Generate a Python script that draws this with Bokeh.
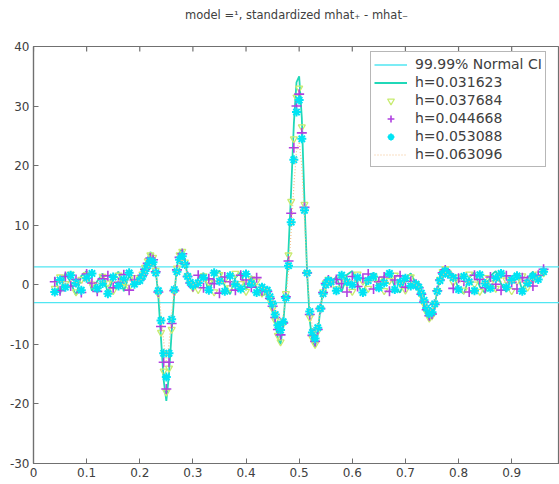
from bokeh.plotting import figure
from bokeh.models import FixedTicker, Legend, LegendItem, Range1d
from bokeh.embed import file_html
from bokeh.resources import INLINE

# ---------------- data ----------------
x = [0.04, 0.05, 0.06, 0.07, 0.08, 0.09, 0.10, 0.11, 0.12, 0.13, 0.14, 0.15, 0.16, 0.17, 0.18, 0.19,
     0.200, 0.205, 0.210, 0.215, 0.220, 0.225, 0.230, 0.235, 0.240, 0.245, 0.250, 0.255, 0.260, 0.265,
     0.270, 0.275, 0.280, 0.285, 0.290, 0.295, 0.300,
     0.31, 0.32, 0.33, 0.34, 0.35, 0.36, 0.37, 0.38, 0.39, 0.40, 0.41, 0.42, 0.43,
     0.440, 0.445, 0.450, 0.455, 0.460, 0.465, 0.470, 0.475, 0.480, 0.485, 0.490, 0.495, 0.500,
     0.505, 0.510, 0.515, 0.520, 0.525, 0.530, 0.535, 0.540, 0.545, 0.550, 0.555, 0.560,
     0.57, 0.58, 0.59, 0.60, 0.61, 0.62, 0.63, 0.64, 0.65, 0.66, 0.67, 0.68, 0.69, 0.70, 0.71,
     0.720, 0.725, 0.730, 0.735, 0.740, 0.745, 0.750, 0.755, 0.760, 0.765, 0.770, 0.775, 0.780,
     0.79, 0.80, 0.81, 0.82, 0.83, 0.84, 0.85, 0.86, 0.87, 0.88, 0.89, 0.90, 0.91, 0.92, 0.93, 0.94, 0.95, 0.96]

h_031623 = [1.2, -1.5, 2.0, 0.4, -1.8, 1.5, 2.3, -1.0, 0.6, 1.9, -1.4, 1.1, 2.2, -1.1, 1.6, -0.3,
            1.0, 2.0, 3.2, 4.5, 5.5, 5.0, 2.5, -2.0, -9.0, -16.0, -19.5, -15.0, -8.0, -1.5, 3.0, 5.5, 6.0, 4.0, 1.5, 0.0, -0.8,
            1.1, 2.0, -1.3, 1.4, 2.4, -0.2, -1.6, 1.2, 2.1, -0.9, 1.5, -0.6, -1.8,
            -1.5, -3.0, -4.5, -6.5, -9.0, -10.0, -6.5, -1.0, 6.0, 16.0, 27.0, 34.0, 35.0, 28.0, 14.0, 2.0, -6.0, -9.5, -10.5, -8.0, -4.0, -1.0, 0.5, 1.0, 0.2,
            1.4, -1.2, 1.7, 2.3, 0.1, -1.5, 1.0, 2.0, -0.8, 1.5, 2.2, -0.4, -1.3, 1.1, 1.9,
            0.2, -0.8, -2.0, -3.5, -5.0, -6.0, -5.5, -3.5, -1.0, 1.0, 2.5, 3.0, 2.2,
            1.8, -0.7, -1.5, 1.2, 2.1, -0.3, -1.4, 1.5, 2.3, 0.2, -1.2, 1.4, 1.9, -0.9, 1.1, 2.2, 0.5, 2.8]

h_037684 = [-0.6, 1.3, 0.2, 1.8, -1.2, 0.9, 1.7, 0.1, -0.8, 1.4, 0.3, -1.0, 1.6, 0.5, -0.4, 1.2,
            0.9, 1.8, 2.9, 4.0, 5.0, 4.6, 2.4, -1.5, -8.0, -14.5, -18.0, -14.0, -7.5, -1.2, 2.8, 5.0, 5.6, 3.8, 1.5, 0.2, -0.5,
            -0.8, 1.5, 0.4, -1.2, 1.7, 0.9, -0.5, 1.9, 0.2, -1.1, 1.0, 0.6, -1.4,
            -1.3, -2.6, -4.0, -6.0, -8.5, -9.6, -6.5, -1.5, 5.0, 14.0, 24.5, 31.5, 33.0, 26.5, 13.5, 2.0, -5.5, -9.0, -10.0, -7.8, -4.0, -1.2, 0.3, 0.9, 0.3,
            -0.7, 1.2, 0.3, -1.1, 1.8, 0.6, -0.6, 1.5, 0.9, -1.0, 0.7, 1.6, 0.2, -0.9, 1.3,
            0.2, -0.6, -1.8, -3.2, -4.6, -5.6, -5.2, -3.4, -1.0, 0.9, 2.2, 2.7, 2.0,
            0.4, 1.3, -0.9, 1.8, 0.1, -1.1, 1.2, 0.3, -0.6, 1.7, 0.8, -1.0, 0.6, 1.5, -0.4, 0.9, 1.8, 2.0]

h_044668 = [0.5, -1.0, 1.4, -0.2, 0.9, -1.3, 1.8, 0.3, -1.1, 1.0, 1.5, -0.5, 0.4, 1.7, -0.9, 0.8,
            0.8, 1.6, 2.6, 3.6, 4.5, 4.2, 2.2, -1.2, -7.0, -13.0, -17.5, -13.0, -6.5, -1.0, 2.5, 4.6, 5.2, 3.6, 1.4, 0.3, -0.3,
            1.6, -0.5, 1.0, 0.2, -1.4, 1.3, 0.5, -0.9, 1.6, 0.8, -0.4, 1.2, -1.0,
            -1.1, -2.3, -3.6, -5.5, -7.5, -8.4, -6.4, -2.0, 4.0, 12.0, 23.0, 30.0, 32.0, 25.5, 13.0, 2.0, -5.0, -8.5, -9.5, -7.5, -4.0, -1.3, 0.2, 0.8, 0.4,
            0.9, 0.2, -1.2, 1.4, -0.3, 1.1, 1.8, -0.7, 0.5, 1.3, -1.1, 0.8, 1.5, -0.4, 0.6,
            0.1, -0.5, -1.6, -2.9, -4.2, -5.2, -4.9, -3.3, -1.0, 0.8, 2.0, 2.5, 1.9,
            -0.6, 1.1, 0.6, -1.2, 1.6, 0.9, -0.5, 1.3, 0.1, -0.9, 1.5, 0.4, -0.7, 1.2, 0.7, -0.2, 1.6, 2.6]

h_053088 = [-1.2, 0.8, -0.4, 1.6, 0.3, -0.9, 1.1, 1.9, -0.6, 0.2, -1.5, 1.3, -0.2, 0.9, 2.0, 0.1,
            0.7, 1.4, 2.3, 3.2, 4.0, 3.8, 2.0, -1.0, -6.0, -11.5, -15.5, -11.5, -5.8, -0.8, 2.2, 4.2, 4.8, 3.4, 1.4, 0.4, -0.1,
            0.3, 1.2, -0.9, 2.0, 0.6, -1.1, 1.5, 0.1, -0.7, 1.8, 0.2, -1.3, -0.4,
            -0.9, -2.0, -3.2, -5.0, -6.8, -7.6, -6.2, -2.2, 3.2, 10.5, 21.0, 29.0, 31.0, 24.5, 12.5, 2.0, -4.5, -8.0, -9.0, -7.2, -4.0, -1.5, 0.0, 0.7, 0.5,
            -1.0, 1.6, 0.5, 0.0, 1.2, -1.3, 0.7, 1.4, -0.5, 0.3, 1.9, -0.8, 0.4, 1.1, -0.2,
            0.1, -0.4, -1.4, -2.6, -3.9, -4.8, -4.6, -3.2, -1.1, 0.7, 1.8, 2.3, 1.8,
            1.2, -0.8, 1.4, 0.5, -1.0, 1.7, 0.2, -0.6, 1.1, 1.9, -0.4, 0.8, 1.5, -1.1, 0.3, 1.4, 0.9, 2.2]

h_063096 = [0.3, 0.6, 0.1, 0.7, 0.4, 0.2, 0.8, 0.5, 0.1, 0.6, 0.3, 0.4, 0.7, 0.5, 0.6, 0.8,
            0.6, 1.2, 2.0, 2.8, 3.4, 3.3, 1.8, -0.6, -5.0, -9.5, -13.0, -10.0, -5.0, -0.5, 2.0, 3.8, 4.3, 3.2, 1.5, 0.5, 0.0,
            0.5, 0.6, 0.3, 0.7, 0.5, 0.3, 0.6, 0.4, 0.5, 0.6, 0.3, 0.0, -0.5,
            -0.8, -1.6, -2.6, -4.0, -5.3, -6.0, -5.2, -2.2, 2.5, 9.0, 16.5, 22.5, 24.0, 20.0, 11.0, 2.0, -4.0, -7.2, -8.2, -6.8, -4.0, -1.6, -0.2, 0.6, 0.5,
            0.5, 0.4, 0.6, 0.7, 0.5, 0.3, 0.5, 0.6, 0.4, 0.5, 0.6, 0.4, 0.2, 0.4, 0.5,
            0.0, -0.3, -1.2, -2.3, -3.5, -4.3, -4.2, -3.0, -1.1, 0.5, 1.6, 2.1, 1.7,
            0.9, 0.6, 0.3, 0.5, 0.7, 0.5, 0.3, 0.5, 0.7, 0.5, 0.3, 0.5, 0.6, 0.4, 0.5, 0.9, 1.3, 2.0]

ci_x = [0.0, 1.0]
ci_upper = [3.0, 3.0]
ci_lower = [-3.0, -3.0]

xticks = [0.0, 0.1, 0.2, 0.3, 0.4, 0.5, 0.6, 0.7, 0.8, 0.9]
xtick_labels = ["0", "0.1", "0.2", "0.3", "0.4", "0.5", "0.6", "0.7", "0.8", "0.9"]
yticks = [-30, -20, -10, 0, 10, 20, 30, 40]
ytick_labels = ["-30", "-20", "-10", "0", "10", "20", "30", "40"]

title_text = "model =\u00b9, standardized mhat\u208a - mhat\u208b"
legend_labels = ["99.99% Normal CI", "h=0.031623", "h=0.037684", "h=0.044668", "h=0.053088", "h=0.063096"]

# ---------------- figure ----------------
FONT = "DejaVu Sans"
AXC = "#707070"
TXC = "#404040"
X0, X1 = 0.0, 0.99
Y0, Y1 = -30, 40
FRAME_W = 526
FRAME_H = 417

p = figure(frame_width=FRAME_W, frame_height=FRAME_H, output_backend="svg", toolbar_location=None,
           x_range=Range1d(X0, X1), y_range=Range1d(Y0, Y1),
           min_border_left=33, min_border_right=0, min_border_top=46, min_border_bottom=21,
           background_fill_color="white", border_fill_color="white")
p.outline_line_color = AXC
p.outline_line_width = 1.2
p.xgrid.visible = False
p.ygrid.visible = False

# title: centred over the axes box, lifted well above the box via bottom padding
p.title.text = title_text
p.title.align = "center"
p.title.offset = 5
p.title.text_font = FONT
p.title.text_font_size = "11.5px"
p.title.text_font_style = "normal"
p.title.text_color = TXC
p.title.standoff = 0
p.title.padding = {"left": 0, "right": 0, "top": 0, "bottom": 25}

def style_axis(ax):
    ax.axis_line_color = AXC
    ax.axis_line_width = 1.2
    ax.major_tick_line_color = AXC
    ax.major_tick_in = 5
    ax.major_tick_out = 0
    ax.minor_tick_line_color = None
    ax.major_label_text_font = FONT
    ax.major_label_text_font_size = "12px"
    ax.major_label_text_color = TXC
    ax.major_label_standoff = 4

p.xaxis.ticker = FixedTicker(ticks=xticks)
p.xaxis.major_label_overrides = {t: l for t, l in zip(xticks, xtick_labels)}
style_axis(p.xaxis[0])
p.yaxis.ticker = FixedTicker(ticks=yticks)
p.yaxis.major_label_overrides = {t: l for t, l in zip(yticks, ytick_labels)}
style_axis(p.yaxis[0])

# inward ticks on the top edge of the box (5 px long)
px_y = (Y1 - Y0) / FRAME_H
tick_len = 5 * px_y
p.segment(x0=xticks, y0=[Y1] * len(xticks), x1=xticks, y1=[Y1 - tick_len] * len(xticks),
          line_color=AXC, line_width=1.2)

# ---------------- glyphs ----------------
r_ci1 = p.line(ci_x, ci_upper, line_color="#50E6F2", line_width=1.3)
p.line(ci_x, ci_lower, line_color="#50E6F2", line_width=1.3)

r_a = p.line(x, h_031623, line_color="#20D8B8", line_width=1.8)
r_b = p.scatter(x, h_037684, marker="inverted_triangle", size=7, line_color="#C8EC70",
                fill_color=None, line_width=1.3)
r_c = p.scatter(x, h_044668, marker="cross", size=10, line_color="#B040E0", line_width=1.6)
r_d = p.scatter(x, h_053088, marker="asterisk", size=9, line_color="#00E4F4", line_width=2.0)
r_e = p.line(x, h_063096, line_color="#F4C088", line_width=1.2, line_dash="1 2")

legend = Legend(items=[LegendItem(label=legend_labels[0], renderers=[r_ci1]),
                       LegendItem(label=legend_labels[1], renderers=[r_a]),
                       LegendItem(label=legend_labels[2], renderers=[r_b]),
                       LegendItem(label=legend_labels[3], renderers=[r_c]),
                       LegendItem(label=legend_labels[4], renderers=[r_d]),
                       LegendItem(label=legend_labels[5], renderers=[r_e])],
                location=(337, 296), padding=3, spacing=0,
                label_height=18, glyph_height=17, glyph_width=33, label_standoff=8,
                label_text_font=FONT, label_text_font_size="14px", label_text_color=TXC,
                border_line_color=AXC, border_line_width=1.2,
                background_fill_color="white", background_fill_alpha=1.0)
p.add_layout(legend)

open("out.html", "w").write(file_html(p, INLINE))
